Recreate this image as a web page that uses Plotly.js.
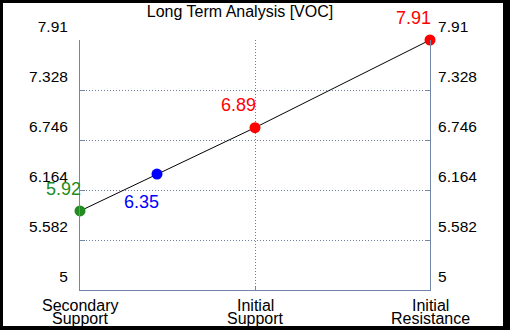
<!DOCTYPE html>
<html>
<head>
<meta charset="utf-8">
<script src="https://cdn.plot.ly/plotly-3.0.1.min.js"></script>
<style>
html, body { margin: 0; padding: 0; background: #000; width: 510px; height: 330px; overflow: hidden; }
#chart { position: absolute; left: 3px; top: 3px; width: 500px; height: 323px; background: #fff; }
</style>
</head>
<body>
<div id="chart"></div>
<script>
// Data
const categoryLine1 = ["Secondary", "Initial", "Initial"];
const categoryLine2 = ["Support", "Support", "Resistance"];
const categoryPos = [0, 1, 2];
const pointLabels = ["5.92", "6.35", "6.89", "7.91"];
const pointX = [0, 0.44, 1, 2];
const pointY = [5.92, 6.35, 6.89, 7.91];
const pointColors = ["#228B22", "#0000FF", "#FF0000", "#FF0000"];
const yTicks = [5, 5.582, 6.164, 6.746, 7.328, 7.91];
const yTickText = ["5", "5.582", "6.164", "6.746", "7.328", "7.91"];

const axisColor = "#7186a8";
const gridColor = "#6d7ea0";
const font = "Liberation Sans, Arial, sans-serif";

const lineTrace = {
  x: pointX, y: pointY, mode: "lines", type: "scatter",
  line: { color: "#000", width: 1 }, hoverinfo: "skip", showlegend: false, cliponaxis: false
};
const markerTrace = {
  x: pointX, y: pointY, mode: "markers", type: "scatter",
  marker: { color: pointColors, size: 11 }, showlegend: false, cliponaxis: false
};
const rightTrace = {
  x: [pointX[0]], y: [pointY[0]], yaxis: "y2", mode: "markers", type: "scatter",
  marker: { opacity: 0 }, hoverinfo: "skip", showlegend: false
};

const labelShifts = [[-17, 22], [-16, -28], [-17, 23], [-17, 22]];
const annotations = pointX.map((x, i) => ({
  x: x, y: pointY[i], xref: "x", yref: "y", text: pointLabels[i], showarrow: false,
  font: { family: font, size: 18, color: pointColors[i] },
  xshift: labelShifts[i][0], yshift: labelShifts[i][1]
}));
categoryPos.forEach((x, i) => {
  annotations.push({
    x: x, y: 0, xref: "x", yref: "paper", text: categoryLine1[i], showarrow: false,
    yanchor: "middle", xanchor: "center", yshift: -15,
    font: { family: font, size: 16, color: "#000" }
  });
  annotations.push({
    x: x, y: 0, xref: "x", yref: "paper", text: categoryLine2[i], showarrow: false,
    yanchor: "middle", xanchor: "center", yshift: -28,
    font: { family: font, size: 16, color: "#000" }
  });
});

const layout = {
  width: 500, height: 323,
  margin: { l: 77, r: 73, t: 37, b: 36 },
  paper_bgcolor: "#fff", plot_bgcolor: "#fff",
  font: { family: font, color: "#000" },
  title: {
    text: "Long Term Analysis [VOC]",
    font: { family: font, size: 16, color: "#000" },
    x: 0.474, xref: "container", xanchor: "center",
    y: 0.975, yref: "container", yanchor: "middle"
  },
  xaxis: {
    range: [0, 2], tickvals: categoryPos, showticklabels: false,
    showgrid: true, gridcolor: gridColor, griddash: "1px,2px", gridwidth: 1,
    showline: true, linecolor: axisColor, linewidth: 1,
    ticks: "inside", ticklen: 3, tickcolor: axisColor,
    zeroline: false, fixedrange: true
  },
  yaxis: {
    range: [5, 7.91], tickvals: yTicks, ticktext: yTickText,
    showgrid: true, gridcolor: gridColor, griddash: "1px,2px", gridwidth: 1,
    showline: true, linecolor: axisColor, linewidth: 1,
    ticks: "inside", ticklen: 5, tickcolor: axisColor,
    tickfont: { family: font, size: 15.5, color: "#000" },
    ticklabelshift: -13, ticklabelstandoff: 8,
    zeroline: false, fixedrange: true
  },
  yaxis2: {
    range: [5, 7.91], tickvals: yTicks, ticktext: yTickText,
    overlaying: "y", side: "right", showgrid: false,
    showline: true, linecolor: axisColor, linewidth: 1,
    ticks: "inside", ticklen: 5, tickcolor: axisColor,
    tickfont: { family: font, size: 15.5, color: "#000" },
    ticklabelshift: -13, ticklabelstandoff: 4,
    zeroline: false, fixedrange: true
  },
  annotations: annotations,
  showlegend: false
};

Plotly.newPlot("chart", [lineTrace, markerTrace, rightTrace], layout, { displayModeBar: false, staticPlot: true });
</script>
</body>
</html>
